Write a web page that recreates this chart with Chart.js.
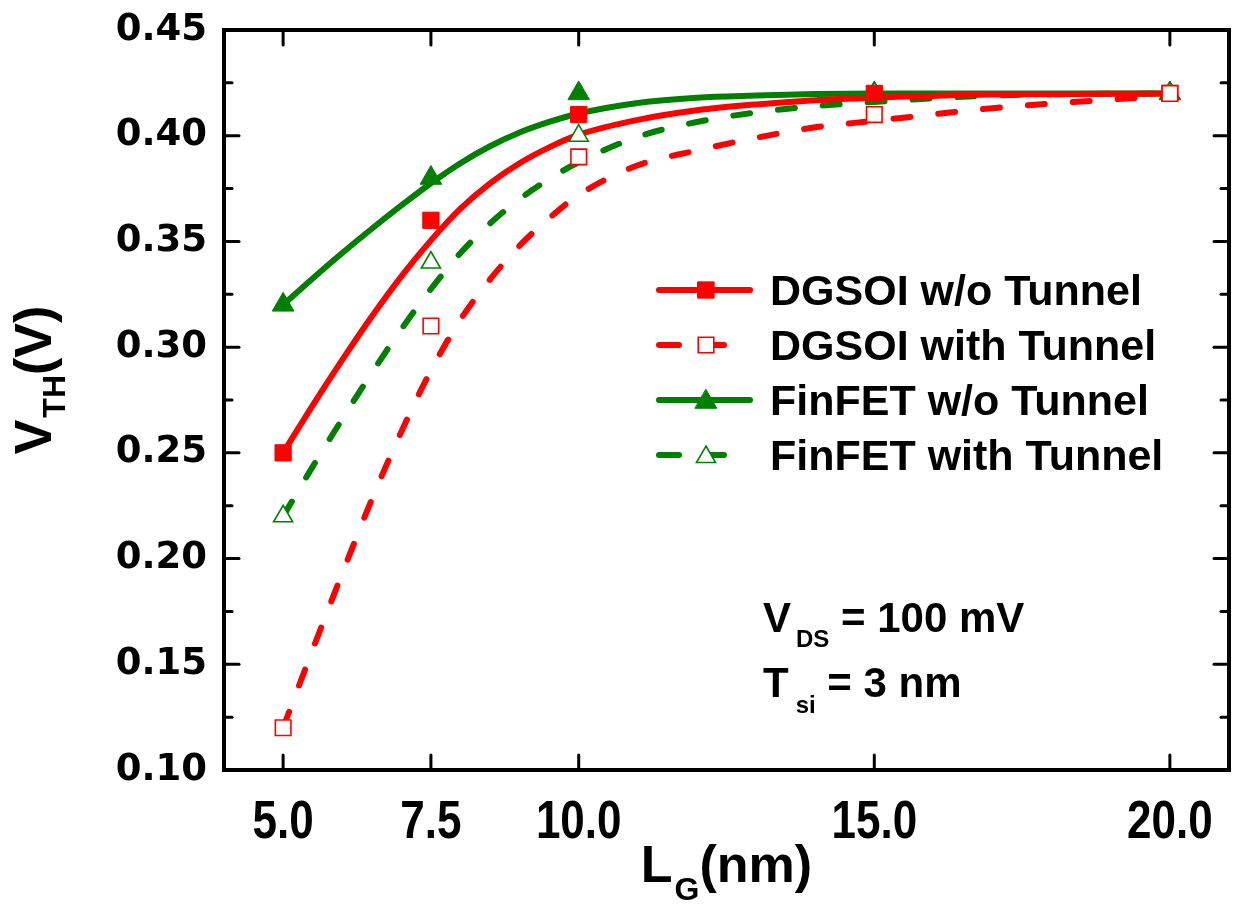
<!DOCTYPE html>
<html>
<head>
<meta charset="utf-8">
<script src="https://cdn.jsdelivr.net/npm/chart.js@4.4.0/dist/chart.umd.min.js"></script>
<style>
  body { margin: 0; background: #fff; }
  #wrap { width: 1238px; height: 915px; }
</style>
</head>
<body>
<div id="wrap"><canvas id="vth-chart" width="1238" height="915"></canvas></div>
<script>
// measured points (L_G in nm, V_TH in V)
const lgPoints = [5.0, 7.5, 10.0, 15.0, 20.0];
const dgsoiNoTunnel = [0.25, 0.36, 0.41, 0.42, 0.42];
const dgsoiTunnel = [0.12, 0.31, 0.39, 0.41, 0.42];
const finfetNoTunnel = [0.32, 0.38, 0.42, 0.42, 0.42];
const finfetTunnel = [0.22, 0.34, 0.40, 0.42, 0.42];

// fitted curves
const fitLg = [5, 5.5, 6, 6.5, 7, 7.5, 8, 8.5, 9, 9.5, 10, 11, 12, 13, 14, 15, 17, 20];
const dgsoiNoTunnelFit = [0.250, 0.2725, 0.294, 0.3145, 0.3335, 0.3505, 0.3655, 0.3775, 0.387, 0.3945, 0.4005, 0.4075, 0.412, 0.4148, 0.4168, 0.418, 0.4195, 0.420];
const dgsoiTunnelFit = [0.120, 0.157, 0.193, 0.228, 0.260, 0.289, 0.313, 0.332, 0.348, 0.361, 0.372, 0.386, 0.393, 0.399, 0.404, 0.407, 0.413, 0.419];
const finfetNoTunnelFit = [0.320, 0.3325, 0.3445, 0.356, 0.367, 0.3775, 0.387, 0.395, 0.4015, 0.4065, 0.4105, 0.4155, 0.418, 0.419, 0.4197, 0.420, 0.420, 0.420];
const finfetTunnelFit = [0.220, 0.2435, 0.266, 0.2878, 0.3085, 0.3275, 0.3445, 0.3585, 0.370, 0.3795, 0.3875, 0.3995, 0.4065, 0.411, 0.414, 0.416, 0.419, 0.420];

const xTicks = [5.0, 7.5, 10.0, 15.0, 20.0];
const yTicks = [0.10, 0.15, 0.20, 0.25, 0.30, 0.35, 0.40, 0.45];
const seriesNames = ["DGSOI w/o Tunnel", "DGSOI with Tunnel", "FinFET w/o Tunnel", "FinFET with Tunnel"];

const RED = "#ff0000";
const GREEN = "#008000";
const SANS = "'Liberation Sans', Arial, sans-serif";
const DASH = [17, 28];

function pts(xs, ys) {
  return xs.map(function (x, i) { return { x: x, y: ys[i] }; });
}

function fitLine(values, color, dashed, order) {
  return {
    type: "line",
    data: pts(fitLg, values),
    borderColor: color,
    borderWidth: 6,
    borderDash: dashed ? DASH : [],
    borderCapStyle: "round",
    borderJoinStyle: "round",
    cubicInterpolationMode: "monotone",
    pointRadius: 0,
    showLine: true,
    fill: false,
    order: order,
  };
}

function markers(values, style, color, filled, radius, order) {
  return {
    type: "scatter",
    data: pts(lgPoints, values),
    pointStyle: style,
    pointRadius: radius,
    pointBackgroundColor: filled ? color : "#fff",
    pointBorderColor: color,
    pointBorderWidth: filled ? 1 : 1.6,
    showLine: false,
    order: order,
  };
}

// writes a run of text pieces (for subscripts) starting at x
function drawParts(ctx, parts, x, y) {
  let cx = x;
  parts.forEach(function (p) {
    ctx.font = "bold " + p.size + "px " + SANS;
    cx += p.dx || 0;
    ctx.fillText(p.text, cx, y + (p.dy || 0));
    cx += ctx.measureText(p.text).width;
  });
}

function partsWidth(ctx, parts) {
  let w = 0;
  parts.forEach(function (p) {
    ctx.font = "bold " + p.size + "px " + SANS;
    w += ctx.measureText(p.text).width + (p.dx || 0);
  });
  return w;
}

function drawMarker(ctx, style, x, y, r, color, filled) {
  ctx.beginPath();
  if (style === "rect") {
    const s = r * Math.SQRT1_2;
    ctx.rect(x - s, y - s, 2 * s, 2 * s);
  } else {
    ctx.moveTo(x, y - r);
    ctx.lineTo(x + r * Math.sqrt(3) / 2, y + r / 2);
    ctx.lineTo(x - r * Math.sqrt(3) / 2, y + r / 2);
    ctx.closePath();
  }
  ctx.fillStyle = filled ? color : "#fff";
  ctx.fill();
  ctx.lineWidth = filled ? 1 : 1.6;
  ctx.strokeStyle = color;
  ctx.stroke();
}

const boxPlugin = {
  id: "boxPlugin",
  afterDatasetsDraw(chart) {
    const ctx = chart.ctx;
    const a = chart.chartArea;
    const xs = chart.scales.x;
    const ys = chart.scales.y;
    function seg(x1, y1, x2, y2) {
      ctx.beginPath();
      ctx.moveTo(x1, y1);
      ctx.lineTo(x2, y2);
      ctx.stroke();
    }
    ctx.save();
    ctx.strokeStyle = "#000";
    ctx.lineWidth = 3;
    ctx.lineCap = "round";
    xTicks.forEach(function (v) {
      const px = xs.getPixelForValue(v);
      seg(px, a.bottom, px, a.bottom - 15);
      seg(px, a.top, px, a.top + 15);
    });
    yTicks.forEach(function (v, i) {
      const py = ys.getPixelForValue(v);
      seg(a.left, py, a.left + 15, py);
      seg(a.right, py, a.right - 15, py);
      if (i < yTicks.length - 1) {
        const pm = ys.getPixelForValue((v + yTicks[i + 1]) / 2);
        seg(a.left, pm, a.left + 8, pm);
        seg(a.right, pm, a.right - 8, pm);
      }
    });
    ctx.lineWidth = 4;
    ctx.lineCap = "square";
    ctx.strokeRect(a.left, a.top, a.right - a.left, a.bottom - a.top);
    ctx.restore();
  },
  afterDraw(chart) {
    const ctx = chart.ctx;
    const a = chart.chartArea;
    const xs = chart.scales.x;
    ctx.save();
    ctx.fillStyle = "#000";
    ctx.textBaseline = "alphabetic";

    // x tick labels, condensed like the original
    ctx.font = "bold 53px " + SANS;
    ctx.textAlign = "center";
    xs.ticks.forEach(function (t) {
      ctx.save();
      ctx.translate(xs.getPixelForValue(t.value), 838);
      ctx.scale(0.83, 1);
      ctx.fillText(Number(t.value).toFixed(1), 0, 0);
      ctx.restore();
    });
    ctx.textAlign = "left";

    // legend
    const rowY = [290, 345, 400, 455];
    const looks = [
      { style: "rect", color: RED, filled: true, dashed: false, r: 11.5 },
      { style: "rect", color: RED, filled: false, dashed: true, r: 11 },
      { style: "triangle", color: GREEN, filled: true, dashed: false, r: 12.5 },
      { style: "triangle", color: GREEN, filled: false, dashed: true, r: 11 },
    ];
    looks.forEach(function (lk, i) {
      const y = rowY[i];
      ctx.strokeStyle = lk.color;
      ctx.lineWidth = 6;
      ctx.lineCap = "round";
      ctx.setLineDash(lk.dashed ? [20, 25] : []);
      ctx.beginPath();
      ctx.moveTo(659, y);
      ctx.lineTo(lk.dashed ? 739 : 750, y);
      ctx.stroke();
      ctx.setLineDash([]);
      drawMarker(ctx, lk.style, 706, y + (lk.style === "triangle" ? 2 : 0), lk.r, lk.color, lk.filled);
      ctx.fillStyle = "#000";
      ctx.font = "bold 43px " + SANS;
      ctx.fillText(seriesNames[i], 770, y + 15);
    });

    // conditions
    drawParts(ctx, [
      { text: "V", size: 42 },
      { text: "DS", size: 24, dy: 15, dx: 5 },
      { text: " = 100 mV", size: 42 },
    ], 763, 632);
    drawParts(ctx, [
      { text: "T", size: 42 },
      { text: "si", size: 24, dy: 16, dx: 7 },
      { text: " = 3 nm", size: 42 },
    ], 763, 697);

    // x title
    const xParts = [
      { text: "L", size: 52 },
      { text: "G", size: 32, dy: 18, dx: 2 },
      { text: "(nm)", size: 52 },
    ];
    const xw = partsWidth(ctx, xParts);
    drawParts(ctx, xParts, (a.left + a.right) / 2 - xw / 2, 882);

    // y title
    const yParts = [
      { text: "V", size: 52 },
      { text: "TH", size: 32, dy: 14, dx: 2 },
      { text: "(V)", size: 52 },
    ];
    const yw = partsWidth(ctx, yParts);
    ctx.translate(33, 380);
    ctx.rotate(-Math.PI / 2);
    drawParts(ctx, yParts, -yw / 2, 18);
    ctx.restore();
  },
};

const ctx = document.getElementById("vth-chart").getContext("2d");
new Chart(ctx, {
  type: "scatter",
  data: {
    datasets: [
      markers(dgsoiTunnel, "rect", RED, false, 11, 1),
      markers(dgsoiNoTunnel, "rect", RED, true, 11.5, 2),
      markers(finfetTunnel, "triangle", GREEN, false, 11, 3),
      markers(finfetNoTunnel, "triangle", GREEN, true, 12.5, 4),
      fitLine(dgsoiNoTunnelFit, RED, false, 5),
      fitLine(dgsoiTunnelFit, RED, true, 6),
      fitLine(finfetNoTunnelFit, GREEN, false, 7),
      fitLine(finfetTunnelFit, GREEN, true, 8),
    ],
  },
  options: {
    responsive: false,
    animation: false,
    events: [],
    layout: { autoPadding: false, padding: { top: 30, right: 9, left: 0, bottom: 0 } },
    plugins: { legend: { display: false }, tooltip: { enabled: false } },
    scales: {
      x: {
        type: "linear",
        min: 4,
        max: 21,
        afterBuildTicks: function (scale) {
          scale.ticks = xTicks.map(function (v) { return { value: v }; });
        },
        afterFit: function (scale) {
          scale.height = 145;
          scale.paddingLeft = 0;
          scale.paddingRight = 0;
        },
        grid: { display: false, drawTicks: false },
        border: { display: false },
        ticks: { display: false },
      },
      y: {
        type: "linear",
        min: 0.10,
        max: 0.45,
        afterBuildTicks: function (scale) {
          scale.ticks = yTicks.map(function (v) { return { value: v }; });
        },
        afterFit: function (scale) {
          scale.width = 224;
          scale.paddingTop = 0;
          scale.paddingBottom = 0;
        },
        grid: { display: false, drawTicks: false },
        border: { display: false },
        ticks: {
          padding: 17,
          color: "#000",
          font: { family: "'DejaVu Sans', sans-serif", size: 37, weight: "bold" },
          callback: function (v) { return Number(v).toFixed(2); },
        },
      },
    },
  },
  plugins: [boxPlugin],
});
</script>
</body>
</html>
